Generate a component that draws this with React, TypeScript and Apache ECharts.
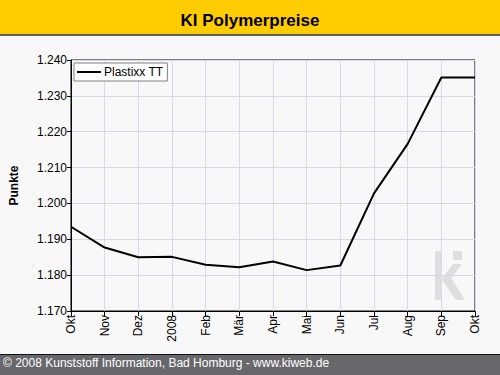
import React, { useEffect, useRef } from "react";
import * as echarts from "echarts";

const categories = ["Okt", "Nov", "Dez", "2008", "Feb", "Mär", "Apr", "Mai", "Jun", "Jul", "Aug", "Sep", "Okt"];
const seriesName = "Plastixx TT";
const values = [1193.5, 1187.7, 1185.0, 1185.1, 1182.9, 1182.2, 1183.8, 1181.4, 1182.7, 1202.8, 1216.6, 1235.1, 1235.1];
const yMin = 1170;
const yMax = 1240;
const yStep = 10;
const titleText = "KI Polymerpreise";
const yAxisTitle = "Punkte";
const footerText = "© 2008 Kunststoff Information, Bad Homburg - www.kiweb.de";

const FONT = "Arial, 'Liberation Sans', sans-serif";
const WM = "#dedede";

export default function App() {
  const ref = useRef<HTMLDivElement>(null);
  useEffect(() => {
    document.body.style.margin = "0";
    if (!ref.current) return;
    const chart = echarts.init(ref.current, null, { renderer: "svg" });
    chart.setOption({
      animation: false,
      backgroundColor: "#f8f8f8",
      textStyle: { fontFamily: FONT },
      title: {
        text: titleText,
        left: "center",
        top: 7,
        textStyle: { fontSize: 17, fontWeight: "bold", color: "#000", fontFamily: FONT },
      },
      graphic: [
        { type: "rect", z: -10, shape: { x: 0, y: 0, width: 500, height: 34 }, style: { fill: "#ffcc00" }, silent: true },
        { type: "rect", z: -10, shape: { x: 0, y: 34, width: 500, height: 2 }, style: { fill: "#5e5f66" }, silent: true },
        { type: "rect", z: -10, shape: { x: 0, y: 354, width: 500, height: 21 }, style: { fill: "#68686c" }, silent: true },
        { type: "rect", z: -10, shape: { x: 0, y: 354, width: 500, height: 1 }, style: { fill: "#111" }, silent: true },
        {
          type: "text",
          left: 3,
          top: 357,
          z: 10,
          style: { text: footerText, fill: "#fff", fontSize: 12, fontFamily: FONT },
          silent: true,
        },
        { type: "rect", z: -1, shape: { x: 435, y: 251, width: 7, height: 49 }, style: { fill: WM }, silent: true },
        { type: "rect", z: -1, shape: { x: 453, y: 251, width: 9, height: 9 }, style: { fill: WM }, silent: true },
        {
          type: "polygon",
          z: -1,
          shape: { points: [[442, 278], [453, 264], [462, 264], [449, 281]] },
          style: { fill: WM },
          silent: true,
        },
        {
          type: "polygon",
          z: -1,
          shape: { points: [[442, 280], [448, 273], [465, 300], [456, 300]] },
          style: { fill: WM },
          silent: true,
        },
      ],
      legend: {
        left: 74,
        top: 63,
        orient: "vertical",
        backgroundColor: "#fff",
        borderColor: "#808080",
        borderWidth: 1,
        borderRadius: 0,
        padding: [3, 4, 3, 3],
        itemWidth: 24,
        itemHeight: 10,
        itemGap: 4,
        textStyle: { fontSize: 12, color: "#000", fontFamily: FONT, padding: [0, 0, 0, -2] },
        data: [{ name: seriesName, icon: "path://M0,4 L24,4 L24,6 L0,6 Z" }],
      },
      grid: {
        left: 70,
        right: 25,
        top: 60,
        bottom: 64,
        show: true,
        borderColor: "#000",
        borderWidth: 1,
        backgroundColor: "transparent",
        containLabel: false,
      },
      xAxis: {
        type: "category",
        data: categories,
        boundaryGap: false,
        axisLine: { lineStyle: { color: "#000", width: 1 } },
        axisTick: { show: true, length: 5, lineStyle: { color: "#000" } },
        axisLabel: { rotate: 90, fontSize: 12, color: "#000", margin: 4, interval: 0, fontFamily: FONT },
        splitLine: { show: true, lineStyle: { color: "#d8d8e6", width: 1 } },
      },
      yAxis: {
        type: "value",
        min: yMin,
        max: yMax,
        interval: yStep,
        name: yAxisTitle,
        nameLocation: "middle",
        nameRotate: 90,
        nameGap: 51,
        nameTextStyle: { fontSize: 12, fontWeight: "bold", color: "#000", fontFamily: FONT },
        axisLine: { show: true, lineStyle: { color: "#000", width: 1 } },
        axisTick: { show: true, length: 4, lineStyle: { color: "#000" } },
        axisLabel: {
          fontSize: 12,
          color: "#000",
          margin: 4,
          fontFamily: FONT,
          formatter: (v: number) => (v / 1000).toFixed(3),
        },
        splitLine: { show: true, lineStyle: { color: "#d8d8e6", width: 1 } },
      },
      series: [
        {
          name: seriesName,
          type: "line",
          data: values,
          symbol: "none",
          lineStyle: { color: "#000", width: 2 },
          itemStyle: { color: "#000" },
          z: 5,
        },
      ],
    });
    return () => chart.dispose();
  }, []);
  return <div ref={ref} style={{ width: 500, height: 375 }} />;
}
